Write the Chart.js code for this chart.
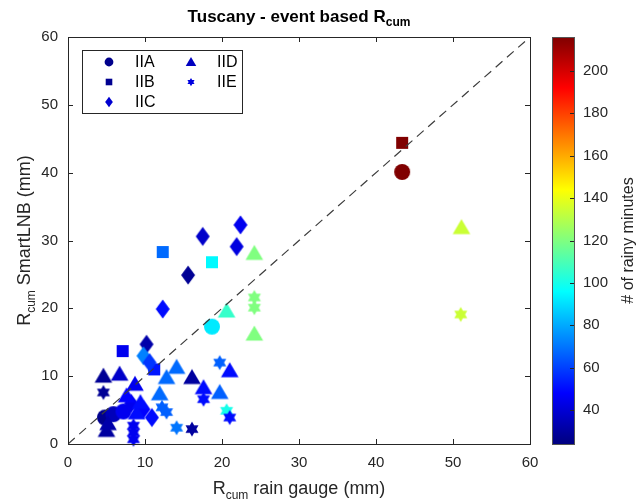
<!DOCTYPE html>
<html><head><meta charset="utf-8">
<script src="https://cdn.jsdelivr.net/npm/chart.js@4.4.1/dist/chart.umd.min.js"></script>
<style>html,body{margin:0;padding:0;background:#fff;}#wrap{width:640px;height:499px;position:relative;}</style>
</head><body><div id="wrap"><canvas id="c" width="640" height="499"></canvas></div>
<script>
// ---------- data ----------
const seriesNames = ['IIA', 'IIB', 'IIC', 'IID', 'IIE'];
// x = R_cum rain gauge (mm), y = R_cum SmartLNB (mm), m = # of rainy minutes
const IIA_x = [43.4, 18.7, 4.8, 5.9, 7.2];
const IIA_y = [40.1, 17.3, 3.9, 4.4, 4.8];
const IIA_m = [216, 92, 27, 35, 45];
const IIB_x = [43.4, 12.3, 18.7, 7.1, 11.2];
const IIB_y = [44.4, 28.3, 26.8, 13.7, 11.0];
const IIB_m = [216, 68, 95, 45, 52];
const IIC_x = [22.4, 17.5, 21.9, 15.6, 12.3, 10.2, 9.8, 10.6, 10.9, 9.8, 8.2];
const IIC_y = [32.3, 30.6, 29.1, 24.9, 19.9, 14.7, 13.0, 12.0, 3.9, 5.1, 6.0];
const IIC_m = [45, 38, 42, 28, 50, 32, 72, 58, 50, 48, 45];
const IID_x = [51.1, 24.2, 20.6, 24.2, 21.0, 17.6, 19.7, 16.1, 14.1, 12.8, 11.9, 4.6, 6.7, 8.7, 7.6, 5.0, 8.9, 9.4, 5.2];
const IID_y = [31.9, 28.1, 19.6, 16.2, 10.8, 8.3, 7.6, 9.8, 11.3, 9.8, 7.4, 10.0, 10.3, 8.8, 7.1, 2.0, 4.6, 6.1, 3.0];
const IID_m = [134, 120, 106, 120, 50, 50, 66, 30, 68, 68, 68, 28, 38, 45, 48, 30, 50, 50, 32];
const IIE_x = [51.0, 24.2, 24.2, 19.7, 17.6, 20.6, 21.0, 12.2, 12.8, 14.1, 16.1, 4.6, 8.5, 8.5, 8.5];
const IIE_y = [19.1, 21.6, 20.1, 12.0, 6.6, 4.9, 3.9, 5.4, 4.7, 2.4, 2.2, 7.6, 2.7, 1.7, 0.7];
const IIE_m = [134, 120, 120, 66, 50, 100, 50, 66, 66, 70, 30, 28, 45, 45, 45];
const xTicks = [0, 10, 20, 30, 40, 50, 60];
const yTicks = [0, 10, 20, 30, 40, 50, 60];
const cbTicks = [40, 60, 80, 100, 120, 140, 160, 180, 200];
const cMin = 24, cMax = 216;
const refLine = [0, 60];

// ---------- helpers ----------
const FONT = '"Liberation Sans", Arial, Helvetica, sans-serif';
const AX = '#262626';
function jetRGB(v) {
  let t = (v - cMin) / (cMax - cMin); t = Math.max(0, Math.min(1, t));
  const f = a => Math.max(0, Math.min(1, 1.5 - Math.abs(4 * t - a)));
  return [Math.round(255 * f(3)), Math.round(255 * f(2)), Math.round(255 * f(1))];
}
function jet(v) { const c = jetRGB(v); return `rgb(${c[0]},${c[1]},${c[2]})`; }
function shapePath(g, shape, cx, cy, s) {
  g.beginPath();
  if (shape === 'circle') { g.arc(cx, cy, 8 * s, 0, Math.PI * 2); }
  else if (shape === 'square') { g.rect(cx - 6 * s, cy - 6 * s, 12 * s, 12 * s); }
  else if (shape === 'diamond') { g.moveTo(cx, cy - 9.5 * s); g.lineTo(cx + 7 * s, cy); g.lineTo(cx, cy + 9.5 * s); g.lineTo(cx - 7 * s, cy); g.closePath(); }
  else if (shape === 'triangle') { g.moveTo(cx, cy - 8.5 * s); g.lineTo(cx + 8.8 * s, cy + 6.5 * s); g.lineTo(cx - 8.8 * s, cy + 6.5 * s); g.closePath(); }
  else if (shape === 'hexagram') {
    const r = 7.5 * s;
    for (const off of [-Math.PI / 2, Math.PI / 2]) {
      for (let k = 0; k < 3; k++) {
        const a = off + k * 2 * Math.PI / 3;
        const px = cx + r * Math.cos(a), py = cy + r * Math.sin(a);
        if (k === 0) g.moveTo(px, py); else g.lineTo(px, py);
      }
      g.closePath();
    }
  }
}
const cache = {};
function markerCanvas(shape, color) {
  const key = shape + color;
  if (cache[key]) return cache[key];
  const c = document.createElement('canvas'); c.width = 24; c.height = 24;
  const g = c.getContext('2d'); g.fillStyle = color;
  shapePath(g, shape, 12, 12, 1);
  g.fill('nonzero');
  cache[key] = c; return c;
}
const shapes = ['circle', 'square', 'diamond', 'triangle', 'hexagram'];
const seriesX = [IIA_x, IIB_x, IIC_x, IID_x, IIE_x];
const seriesY = [IIA_y, IIB_y, IIC_y, IID_y, IIE_y];
const seriesM = [IIA_m, IIB_m, IIC_m, IID_m, IIE_m];
const legendColors = ['#00008c', '#000090', '#0000d0', '#0000c0', '#0000e0'];

const datasets = seriesNames.map((name, i) => ({
  type: 'scatter', label: name, order: 4 - i + 1, clip: false,
  data: seriesX[i].map((x, j) => ({ x: x, y: seriesY[i][j] })),
  pointRadius: 8,
  pointStyle: ctx => markerCanvas(shapes[i], jet(seriesM[i][ctx.dataIndex] ?? cMin)),
  borderWidth: 0
}));
datasets.push({
  type: 'line', label: 'ref', order: 0,
  data: refLine.map(v => ({ x: v, y: v })),
  borderColor: '#3c3c3c', borderWidth: 1.2, borderDash: [9, 6], pointRadius: 0, fill: false
});

function drawSubText(g, parts, x, y, align) {
  let w = 0; parts.forEach(p => { g.font = p.font; w += g.measureText(p.t).width; });
  let sx = align === 'center' ? x - w / 2 : x;
  g.textAlign = 'left'; g.textBaseline = 'alphabetic';
  parts.forEach(p => { g.font = p.font; g.fillText(p.t, sx, y + (p.dy || 0)); sx += g.measureText(p.t).width; });
}

const deco = {
  id: 'deco',
  beforeDraw(chart) {
    const g = chart.ctx, a = chart.chartArea;
    // colorbar (drawn under the axis labels)
    const bx = 552, bw = 22, top = a.top, bot = a.bottom;
    const grad = g.createLinearGradient(0, bot, 0, top);
    for (let k = 0; k <= 64; k++) { const v = cMin + (cMax - cMin) * k / 64; grad.addColorStop(k / 64, jet(v)); }
    g.save();
    g.fillStyle = grad; g.fillRect(bx, top, bw, bot - top);
    g.strokeStyle = '#555'; g.lineWidth = 1; g.strokeRect(bx + 0.5, top + 0.5, bw, bot - top);
    const cb = chart.scales.cb;
    g.strokeStyle = AX; g.beginPath();
    cbTicks.forEach(v => { const py = Math.round(cb.getPixelForValue(v)) + 0.5;
      g.moveTo(bx + bw, py); g.lineTo(bx + bw - 4, py); });
    g.stroke();
    g.translate(629, (top + bot) / 2); g.rotate(-Math.PI / 2);
    g.fillStyle = AX; g.font = '16px ' + FONT; g.textAlign = 'center'; g.textBaseline = 'middle';
    g.fillText('# of rainy minutes', 0, 0);
    g.restore();
  },
  afterDatasetsDraw(chart) {
    const g = chart.ctx, a = chart.chartArea;
    const xs = chart.scales.x, ys = chart.scales.y;
    g.save();
    // axes box + inner ticks
    g.strokeStyle = AX; g.lineWidth = 1;
    g.strokeRect(Math.round(a.left) + 0.5, Math.round(a.top) + 0.5, Math.round(a.right - a.left), Math.round(a.bottom - a.top));
    g.beginPath();
    xTicks.forEach(v => { const px = Math.round(xs.getPixelForValue(v)) + 0.5;
      g.moveTo(px, a.bottom); g.lineTo(px, a.bottom - 5); g.moveTo(px, a.top); g.lineTo(px, a.top + 5); });
    yTicks.forEach(v => { const py = Math.round(ys.getPixelForValue(v)) + 0.5;
      g.moveTo(a.left, py); g.lineTo(a.left + 5, py); g.moveTo(a.right, py); g.lineTo(a.right - 5, py); });
    g.stroke();
    // legend
    const L = { x: 82, y: 50, w: 160, h: 63 };
    g.fillStyle = '#fff'; g.fillRect(L.x, L.y, L.w, L.h);
    g.strokeStyle = AX; g.strokeRect(L.x + 0.5, L.y + 0.5, L.w, L.h);
    const pos = [[109, 62], [109, 82], [109, 102], [191, 62], [191, 82]];
    seriesNames.forEach((n, i) => {
      const [mx, my] = pos[i];
      g.fillStyle = legendColors[i];
      shapePath(g, shapes[i], mx, my, i === 3 ? 0.6 : 0.55); g.fill('nonzero');
      g.fillStyle = '#000'; g.font = '16px ' + FONT; g.textAlign = 'left'; g.textBaseline = 'middle';
      g.fillText(n, mx + 26, my + 1);
    });
    // title
    g.fillStyle = '#000';
    drawSubText(g, [{ t: 'Tuscany - event based R', font: 'bold 17px ' + FONT }, { t: 'cum', font: 'bold 12px ' + FONT, dy: 4 }], (a.left + a.right) / 2, 22, 'center');
    // x label
    g.fillStyle = AX;
    drawSubText(g, [{ t: 'R', font: '18px ' + FONT }, { t: 'cum', font: '12px ' + FONT, dy: 5 }, { t: ' rain gauge (mm)', font: '18px ' + FONT }], (a.left + a.right) / 2, 494, 'center');
    // y label
    g.save(); g.translate(30, (a.top + a.bottom) / 2); g.rotate(-Math.PI / 2);
    drawSubText(g, [{ t: 'R', font: '18px ' + FONT }, { t: 'cum', font: '12px ' + FONT, dy: 5 }, { t: ' SmartLNB (mm)', font: '18px ' + FONT }], 0, 0, 'center');
    g.restore();
    g.restore();
  }
};

new Chart(document.getElementById('c'), {
  type: 'scatter',
  data: { datasets },
  options: {
    responsive: false, animation: false, events: [],
    layout: { padding: { top: 37, left: 0, right: 0, bottom: 0 } },
    plugins: { legend: { display: false }, tooltip: { enabled: false }, title: { display: false } },
    scales: {
      x: {
        type: 'linear', position: 'bottom', min: 0, max: 60,
        afterBuildTicks: s => { s.ticks = xTicks.map(v => ({ value: v })); },
        afterFit: s => { s.height = 55; s.paddingLeft = 0; s.paddingRight = 0; },
        grid: { display: false, drawTicks: false }, border: { display: false },
        ticks: { color: AX, font: { size: 15, family: FONT }, padding: 10, maxRotation: 0 }
      },
      y: {
        type: 'linear', position: 'left', min: 0, max: 60,
        afterBuildTicks: s => { s.ticks = yTicks.map(v => ({ value: v })); },
        afterFit: s => { s.width = 68; s.paddingTop = 0; s.paddingBottom = 0; },
        grid: { display: false, drawTicks: false }, border: { display: false },
        ticks: { color: AX, font: { size: 15, family: FONT }, padding: 10 }
      },
      cb: {
        type: 'linear', position: 'right', min: cMin, max: cMax,
        afterBuildTicks: s => { s.ticks = cbTicks.map(v => ({ value: v })); },
        afterFit: s => { s.width = 110; s.paddingTop = 0; s.paddingBottom = 0; },
        grid: { display: false, drawTicks: false }, border: { display: false },
        ticks: { color: AX, font: { size: 15, family: FONT }, padding: 53 }
      }
    }
  },
  plugins: [deco]
});
</script></body></html>
